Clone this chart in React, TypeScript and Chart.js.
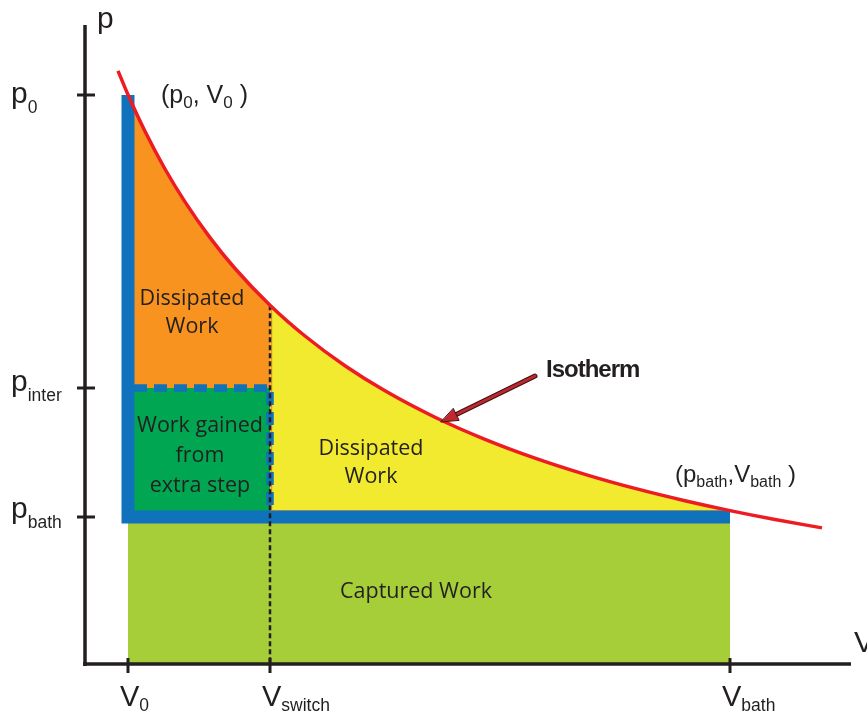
import React, { useEffect, useRef } from 'react';
import { Chart, registerables } from 'chart.js';

Chart.register(...registerables);

// ---- Data (arbitrary units: V along x, p along y) ----
const V0 = 4.3;
const Vswitch = 18.5;
const Vbath = 64.5;
const p0 = 56.9;
const pInter = 27.6;
const pBath = 14.7;

const volumeTickValues = [V0, Vswitch, Vbath];
const volumeTickNames = ['V', 'V', 'V'];
const volumeTickSubs = ['0', 'switch', 'bath'];

const pressureTickValues = [p0, pInter, pBath];
const pressureTickNames = ['p', 'p', 'p'];
const pressureTickSubs = ['0', 'inter', 'bath'];

// Isotherm
const isothermV = [3.3, 4.3, 6, 8, 10, 12.5, 15, 18.5, 22, 26, 30, 35, 40, 45, 50, 55, 60, 64.5, 69, 73.7];
const isothermP = [59.31, 56.92, 53.27, 49.5, 46.21, 42.64, 39.55, 35.88, 32.8, 29.83, 27.32, 24.68, 22.47, 20.59, 18.97, 17.56, 16.33, 15.34, 14.45, 13.61];

// Axis extents
const axisVEnd = 76.6;
const axisPEnd = 63.9;

// Region labels (anchor in data units)
const regionTexts = [
  ['Dissipated', 'Work'],
  ['Work gained', 'from', 'extra step'],
  ['Dissipated', 'Work'],
  ['Captured Work'],
];
const regionAnchorV = [10.7, 11.5, 28.6, 33.1];
const regionAnchorP = [35.9, 23.2, 20.9, 6.6];

// Isotherm annotation arrow
const arrowTailV = 45.0;
const arrowTailP = 28.8;
const arrowTipV = 35.6;
const arrowTipP = 24.2;

// ---- Styles ----
const INK = '#231f20';
const BLUE = '#1172bc';
const ORANGE = '#f7931e';
const YELLOW = '#f2ea2e';
const DKGREEN = '#00a651';
const LTGREEN = '#a6ce39';
const RED = '#ed1c24';

const SANS = '"Liberation Sans", Arial, sans-serif';
const HUMAN = '"Open Sans", "Noto Sans", sans-serif';

type Part = { t: string; sub?: boolean };

function drawRich(ctx: CanvasRenderingContext2D, x: number, y: number, parts: Part[], main: string, sub: string, subDy: number) {
  let cx = x;
  for (const part of parts) {
    ctx.font = part.sub ? sub : main;
    ctx.fillText(part.t, cx, part.sub ? y + subDy : y);
    cx += ctx.measureText(part.t).width;
  }
}

const pts = (vs: number[], ps: number[]) => vs.map((v, i) => ({ x: v, y: ps[i] }));

const annotate = {
  id: 'annotate',
  afterDatasetsDraw(chart: any) {
    const ctx: CanvasRenderingContext2D = chart.ctx;
    const xs = chart.scales.x;
    const ys = chart.scales.y;
    const X = (v: number) => xs.getPixelForValue(v);
    const Y = (p: number) => ys.getPixelForValue(p);
    ctx.save();
    ctx.lineCap = 'butt';
    // tick marks
    ctx.strokeStyle = INK;
    ctx.lineWidth = 3;
    pressureTickValues.forEach((p) => {
      const y = Y(p);
      ctx.beginPath();
      ctx.moveTo(X(0) - 8, y);
      ctx.lineTo(X(0) + 10, y);
      ctx.stroke();
    });
    volumeTickValues.forEach((v) => {
      const x = X(v);
      ctx.beginPath();
      ctx.moveTo(x, Y(0) - 6);
      ctx.lineTo(x, Y(0) + 9);
      ctx.stroke();
    });

    ctx.fillStyle = INK;
    ctx.textBaseline = 'alphabetic';
    ctx.textAlign = 'left';
    // pressure tick labels
    const pDy = [7.5, 2.5, 0.5];
    pressureTickValues.forEach((p, i) => {
      drawRich(ctx, 11, Y(p) + pDy[i], [{ t: pressureTickNames[i] }, { t: pressureTickSubs[i], sub: true }],
        `30px ${SANS}`, `17.5px ${SANS}`, 10);
    });
    // volume tick labels
    volumeTickValues.forEach((v, i) => {
      drawRich(ctx, X(v) - 8, 706, [{ t: volumeTickNames[i] }, { t: volumeTickSubs[i], sub: true }],
        `29px ${SANS}`, `17.5px ${SANS}`, 5);
    });
    // axis titles
    ctx.font = `30px ${SANS}`;
    ctx.fillText('p', X(0) + 12, Y(axisPEnd) + 3);
    ctx.fillText('V', X(axisVEnd) + 3, Y(0) - 12);

    // point labels
    drawRich(ctx, X(V0) + 33, Y(p0) + 8,
      [{ t: '(' }, { t: 'p' }, { t: '0', sub: true }, { t: ', ' }, { t: 'V' }, { t: '0', sub: true }, { t: ' )' }],
      `25px ${SANS}`, `17px ${SANS}`, 5);
    drawRich(ctx, X(Vbath) - 55, Y(pBath) - 35,
      [{ t: '(' }, { t: 'p' }, { t: 'bath', sub: true }, { t: ',' }, { t: 'V' }, { t: 'bath', sub: true }, { t: ' )' }],
      `24px ${SANS}`, `16px ${SANS}`, 5);

    // region labels
    ctx.textAlign = 'center';
    ctx.font = `21.5px ${HUMAN}`;
    const spacing = [28, 30, 28, 0];
    regionTexts.forEach((lines, i) => {
      lines.forEach((line, j) => {
        ctx.fillText(line, X(regionAnchorV[i]), Y(regionAnchorP[i]) + j * spacing[i]);
      });
    });

    // Isotherm label
    ctx.textAlign = 'left';
    ctx.font = `bold 24px ${SANS}`;
    (ctx as any).letterSpacing = '-1px';
    ctx.fillText('Isotherm', X(arrowTailV) + 11, Y(arrowTailP) + 1);
    (ctx as any).letterSpacing = '0px';

    // arrow
    const tx = X(arrowTailV), ty = Y(arrowTailP);
    const hx = X(arrowTipV), hy = Y(arrowTipP);
    const ang = Math.atan2(hy - ty, hx - tx);
    const headLen = 17, headHalf = 6.5;
    const bx = hx - Math.cos(ang) * headLen, by = hy - Math.sin(ang) * headLen;
    ctx.lineCap = 'round';
    ctx.strokeStyle = '#3b1416';
    ctx.lineWidth = 5;
    ctx.beginPath(); ctx.moveTo(tx, ty); ctx.lineTo(bx, by); ctx.stroke();
    ctx.strokeStyle = '#c1272d';
    ctx.lineWidth = 3;
    ctx.beginPath(); ctx.moveTo(tx, ty); ctx.lineTo(bx, by); ctx.stroke();
    ctx.beginPath();
    ctx.moveTo(hx, hy);
    ctx.lineTo(bx + Math.sin(ang) * headHalf, by - Math.cos(ang) * headHalf);
    ctx.lineTo(bx - Math.sin(ang) * headHalf, by + Math.cos(ang) * headHalf);
    ctx.closePath();
    ctx.fillStyle = '#c1272d';
    ctx.fill();
    ctx.lineWidth = 1;
    ctx.strokeStyle = '#3b1416';
    ctx.stroke();
    ctx.restore();
  },
};

export default function App() {
  const canvasRef = useRef<HTMLCanvasElement | null>(null);

  useEffect(() => {
    const canvas = canvasRef.current;
    if (!canvas) return;
    const iso = pts(isothermV, isothermP);
    const orangePts = iso.filter((pt) => pt.x >= V0 && pt.x <= Vswitch);
    const yellowPts = iso.filter((pt) => pt.x >= Vswitch && pt.x <= Vbath);
    const pAtSwitch = isothermP[isothermV.indexOf(Vswitch)];

    const base = { pointRadius: 0, pointHoverRadius: 0, fill: false, tension: 0 } as any;
    const clear = 'rgba(0,0,0,0)';

    const chart = new Chart(canvas, {
      type: 'line',
      data: {
        datasets: [
          { ...base, label: 'V axis', data: [{ x: -0.2, y: 0 }, { x: axisVEnd, y: 0 }], borderColor: INK, borderWidth: 3.5, order: 1 },
          { ...base, label: 'p axis', data: [{ x: 0, y: -0.2 }, { x: 0, y: axisPEnd }], borderColor: INK, borderWidth: 3.5, order: 1 },
          { ...base, label: 'Isotherm', data: iso, borderColor: RED, borderWidth: 3.5, cubicInterpolationMode: 'monotone', order: 2 },
          { ...base, label: 'switch', data: [{ x: Vswitch, y: pAtSwitch }, { x: Vswitch, y: 0 }], borderColor: INK, borderWidth: 2.5, borderDash: [5, 3], order: 3 },
          { ...base, label: 'extra step', data: [{ x: V0 + 0.6, y: pInter }, { x: Vswitch, y: pInter }, { x: Vswitch, y: pBath }], borderColor: BLUE, borderWidth: 7.5, borderDash: [13, 7], order: 4 },
          { ...base, label: 'process', data: [{ x: V0, y: p0 }, { x: V0, y: pBath }, { x: Vbath, y: pBath }], borderColor: BLUE, borderWidth: 13, borderJoinStyle: 'miter', borderCapStyle: 'butt', order: 5 },
          { ...base, label: 'edge', data: [{ x: Vswitch + 0.15, y: pAtSwitch }, { x: Vswitch + 0.15, y: pBath + 0.6 }, { x: Vbath, y: pBath + 0.6 }], borderColor: ORANGE, borderWidth: 1.5, order: 6 },
          { ...base, label: 'dissipated 1', data: orangePts, borderColor: clear, borderWidth: 0, backgroundColor: ORANGE, fill: { value: pInter }, cubicInterpolationMode: 'monotone', order: 7 },
          { ...base, label: 'dissipated 2', data: yellowPts, borderColor: clear, borderWidth: 0, backgroundColor: YELLOW, fill: { value: pBath }, cubicInterpolationMode: 'monotone', order: 7 },
          { ...base, label: 'gained', data: [{ x: V0, y: pInter }, { x: Vswitch, y: pInter }], borderColor: clear, borderWidth: 0, backgroundColor: DKGREEN, fill: { value: pBath }, order: 7 },
          { ...base, label: 'captured', data: [{ x: V0, y: pBath }, { x: Vbath, y: pBath }], borderColor: clear, borderWidth: 0, backgroundColor: LTGREEN, fill: 'origin', order: 8 },
        ],
      },
      options: {
        animation: false,
        responsive: false,
        events: [],
        layout: { padding: 0, autoPadding: false },
        plugins: { legend: { display: false }, tooltip: { enabled: false } },
        scales: {
          x: { type: 'linear', min: -8.5, max: 78.2, display: false, bounds: 'data' },
          y: { type: 'linear', min: -5.2, max: 66.4, display: false, bounds: 'data' },
        },
      },
      plugins: [annotate],
    } as any);

    return () => chart.destroy();
  }, []);

  return (
    <div style={{ position: 'fixed', left: 0, top: 0, width: 867, height: 716, background: '#fff' }}>
      <canvas ref={canvasRef} width={867} height={716} style={{ display: 'block', width: 867, height: 716 }} />
    </div>
  );
}
